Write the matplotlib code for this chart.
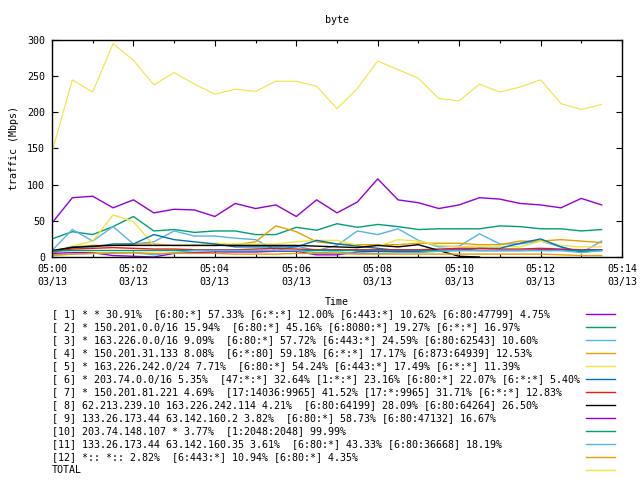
import matplotlib
matplotlib.use("Agg")
import matplotlib.pyplot as plt
from matplotlib.lines import Line2D
from matplotlib.ticker import MultipleLocator

# sample times, minutes after 05:00 (one sample every 30 s)
minutes = [0, 0.5, 1, 1.5, 2, 2.5, 3, 3.5, 4, 4.5, 5, 5.5, 6, 6.5,
           7, 7.5, 8, 8.5, 9, 9.5, 10, 10.5, 11, 11.5, 12, 12.5, 13, 13.5]

s1 = [47, 82, 84, 68, 79, 61, 66, 65, 56, 74, 67, 72, 56, 79,
      61, 76, 108, 79, 75, 67, 72, 82, 80, 74, 72, 68, 81, 72]
s2 = [25, 35, 31, 42, 56, 36, 38, 34, 36, 36, 31, 31, 41, 37,
      46, 41, 45, 42, 38, 39, 39, 39, 43, 42, 39, 39, 36, 38]
s3 = [9, 38, 22, 42, 18, 21, 36, 29, 29, 26, 24, 9, 15, 9,
      16, 36, 31, 39, 23, 14, 15, 32, 18, 18, 22, 14, 6, 22]
s4 = [5, 14, 16, 16, 18, 18, 16, 16, 16, 17, 21, 43, 35, 21,
      18, 17, 17, 17, 19, 19, 19, 17, 17, 22, 22, 24, 22, 20]
s5 = [7, 15, 22, 58, 49, 16, 16, 17, 19, 18, 18, 18, 21, 23,
      23, 16, 15, 24, 22, 16, 14, 15, 15, 14, 22, 16, 14, 14]
s6 = [8, 14, 14, 18, 18, 31, 24, 21, 18, 14, 14, 14, 14, 23,
      18, 15, 12, 9, 9, 9, 9, 12, 12, 19, 25, 14, 7, 9]
s7 = [8, 11, 12, 13, 12, 11, 11, 10, 10, 10, 11, 12, 11, 10,
      10, 10, 10, 10, 10, 11, 12, 12, 11, 11, 12, 11, 10, 10]
s8 = [9, 13, 15, 16, 16, 16, 16, 16, 16, 16, 16, 16, 16, 15,
      14, 13, 16, 14, 17, 9, 1, 0, None, None, None, None, None, None]
s9 = [5, 6, 6, 2, 1, 0, 5, 6, 7, 7, 7, 8, 8, 3,
      3, 7, 8, 8, 8, 9, 10, 9, 9, 9, 10, 10, 9, 10]
s10 = [8, 9, 9, 9, 9, 9, 9, 9, 9, 9, 9, 9, 9, 9,
       9, 9, 9, 9, 9, 9, 9, 9, 9, 9, 9, 9, 9, 9]
s11 = [3, 4, 5, 5, 6, 3, 6, 9, 9, 9, 9, 9, 9, 6,
       7, 5, 5, 6, 6, 8, 9, 9, 9, 9, 9, 9, 6, 9]
s12 = [2, 4, 5, 6, 6, 5, 5, 5, 5, 4, 4, 4, 5, 5,
       5, 4, 4, 4, 4, 4, 4, 4, 4, 4, 4, 3, 2, 2]
total = [145, 245, 228, 295, 272, 238, 255, 239, 225, 232, 229, 243, 243, 236,
         205, 233, 271, 259, 247, 219, 216, 239, 228, 235, 245, 212, 204, 211]

labels = [
    "[ 1] * * 30.91%  [6:80:*] 57.33% [6:*:*] 12.00% [6:443:*] 10.62% [6:80:47799] 4.75%",
    "[ 2] * 150.201.0.0/16 15.94%  [6:80:*] 45.16% [6:8080:*] 19.27% [6:*:*] 16.97%",
    "[ 3] * 163.226.0.0/16 9.09%  [6:80:*] 57.72% [6:443:*] 24.59% [6:80:62543] 10.60%",
    "[ 4] * 150.201.31.133 8.08%  [6:*:80] 59.18% [6:*:*] 17.17% [6:873:64939] 12.53%",
    "[ 5] * 163.226.242.0/24 7.71%  [6:80:*] 54.24% [6:443:*] 17.49% [6:*:*] 11.39%",
    "[ 6] * 203.74.0.0/16 5.35%  [47:*:*] 32.64% [1:*:*] 23.16% [6:80:*] 22.07% [6:*:*] 5.40%",
    "[ 7] * 150.201.81.221 4.69%  [17:14036:9965] 41.52% [17:*:9965] 31.71% [6:*:*] 12.83%",
    "[ 8] 62.213.239.10 163.226.242.114 4.21%  [6:80:64199] 28.09% [6:80:64264] 26.50%",
    "[ 9] 133.26.173.44 63.142.160.2 3.82%  [6:80:*] 58.73% [6:80:47132] 16.67%",
    "[10] 203.74.148.107 * 3.77%  [1:2048:2048] 99.99%",
    "[11] 133.26.173.44 63.142.160.35 3.61%  [6:80:*] 43.33% [6:80:36668] 18.19%",
    "[12] *:: *:: 2.82%  [6:443:*] 10.94% [6:80:*] 4.35%",
    "TOTAL",
]
series = [s1, s2, s3, s4, s5, s6, s7, s8, s9, s10, s11, s12, total]

xtick_labels = ["05:00\n03/13", "05:02\n03/13", "05:04\n03/13", "05:06\n03/13",
                "05:08\n03/13", "05:10\n03/13", "05:12\n03/13", "05:14\n03/13"]

# gnuplot default line colours
colors = ["#9400d3", "#009e73", "#56b4e9", "#e69f00", "#f0e442", "#0072b2",
          "#e51e10", "#000000"]

mono = "DejaVu Sans Mono"
fs = 7.2

fig = plt.figure(figsize=(6.4, 4.8), dpi=100)
ax = fig.add_axes([52 / 640, 1 - 257 / 480, 570 / 640, 217 / 480])

for i, ys in enumerate(series):
    c = colors[i % len(colors)]
    vals = [float("nan") if v is None else v for v in ys]
    ax.plot(minutes, vals, color=c, lw=1.0 if i < 12 else 0.8)

ax.set_xlim(0, 14)
ax.set_ylim(0, 300)
ax.xaxis.set_major_locator(MultipleLocator(2))
ax.xaxis.set_minor_locator(MultipleLocator(1))
ax.yaxis.set_major_locator(MultipleLocator(50))
ax.set_xticks(range(0, 15, 2))
ax.set_xticklabels(xtick_labels, family=mono, fontsize=fs, linespacing=1.35)
for lab in ax.get_yticklabels():
    lab.set_family(mono)
    lab.set_fontsize(fs)
ax.tick_params(which="both", direction="in", top=True, right=True, width=0.8)
ax.tick_params(which="major", length=4, pad=5)
ax.tick_params(which="minor", length=2.5)
for sp in ax.spines.values():
    sp.set_linewidth(1.0)

ax.set_ylabel("traffic (Mbps)", family=mono, fontsize=fs, labelpad=6)
fig.text(337 / 640, 1 - 20 / 480, "byte", family=mono, fontsize=fs,
         ha="center", va="center")
fig.text(337 / 640, 1 - 302 / 480, "Time", family=mono, fontsize=fs,
         ha="center", va="center")

# key below the plot
for i, lab in enumerate(labels):
    y = 1 - (314 + 13 * i) / 480
    fig.text(52 / 640, y, lab, family=mono, fontsize=fs, ha="left", va="center")
    fig.add_artist(Line2D([586 / 640, 615 / 640], [y, y], transform=fig.transFigure,
                          color=colors[i % len(colors)], lw=1.0))

fig.savefig("out.png", dpi=100)
